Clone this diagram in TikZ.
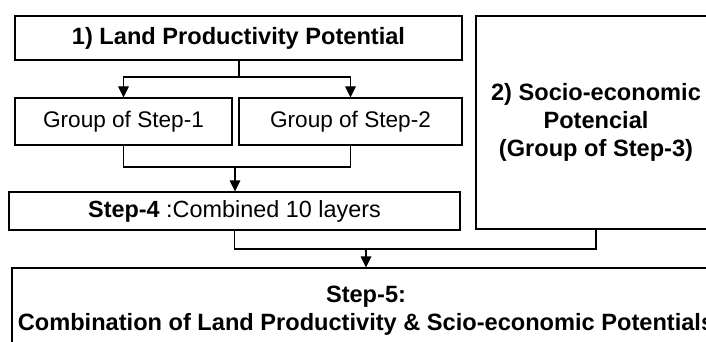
\documentclass[tikz,border=0pt]{standalone}
\usepackage{fontspec}
\setmainfont{Liberation Sans}
\usetikzlibrary{arrows.meta,calc,positioning,shapes}

\tikzset{
  stagebox/.style={draw, line width=1.1pt, inner sep=0pt, align=center,
    font=\fontsize{22.6}{28}\selectfont},
  titlebox/.style={stagebox, font=\fontsize{23.6}{28}\selectfont\bfseries},
  flow/.style={line width=1.1pt},
  flowarrow/.style={flow, -{Triangle[length=11pt,width=10.5pt]}}
}

\begin{document}
\begin{tikzpicture}[x=1pt,y=-1pt]
  % Frame of the figure
  \useasboundingbox (0,0) rectangle (706,342);
  \begin{scope}
    \clip (0,0) rectangle (706,342);
    % Boxes
    \node[titlebox, minimum width=447pt, minimum height=44pt] (land) at (238.5,38)
      {1) Land Productivity Potential};
    \node[stagebox, minimum width=217pt, minimum height=47pt] (grp1) at (123.5,121.5)
      {Group of Step-1};
    \node[stagebox, minimum width=223pt, minimum height=47pt] (grp2) at (350.5,121.5)
      {Group of Step-2};
    \node[stagebox, font=\fontsize{23.4}{28}\selectfont, minimum width=451pt,
      minimum height=38pt] (step4) at (234.5,211)
      {\textbf{Step-4} :Combined 10 layers};
    \node[titlebox, minimum width=240pt, minimum height=213pt] (socio) at (596,122.5)
      {2) Socio-economic\\Potencial\\(Group of Step-3)};
    \node[titlebox, minimum width=708pt, minimum height=85pt] (step5) at (366,310.5)
      {Step-5:\\Combination of Land Productivity \& Scio-economic Potentials};
    % Connectors
    \coordinate (split) at (239,77);
    \coordinate (join) at (235,167);
    \coordinate (merge) at (366,249);
    \draw[flow] (land.south -| split) -- (split);
    \draw[flowarrow] (split) -| (grp1.north);
    \draw[flowarrow] (split) -| (grp2.north);
    \draw[flow] (grp1.south) |- (grp2.south |- join) -- (grp2.south);
    \draw[flowarrow] (join) -- (step4.north -| join);
    \draw[flow] (step4.south) |- (socio.south |- merge) -- (socio.south);
    \draw[flowarrow] (merge) -- (step5.north);
  \end{scope}
\end{tikzpicture}
\end{document}
